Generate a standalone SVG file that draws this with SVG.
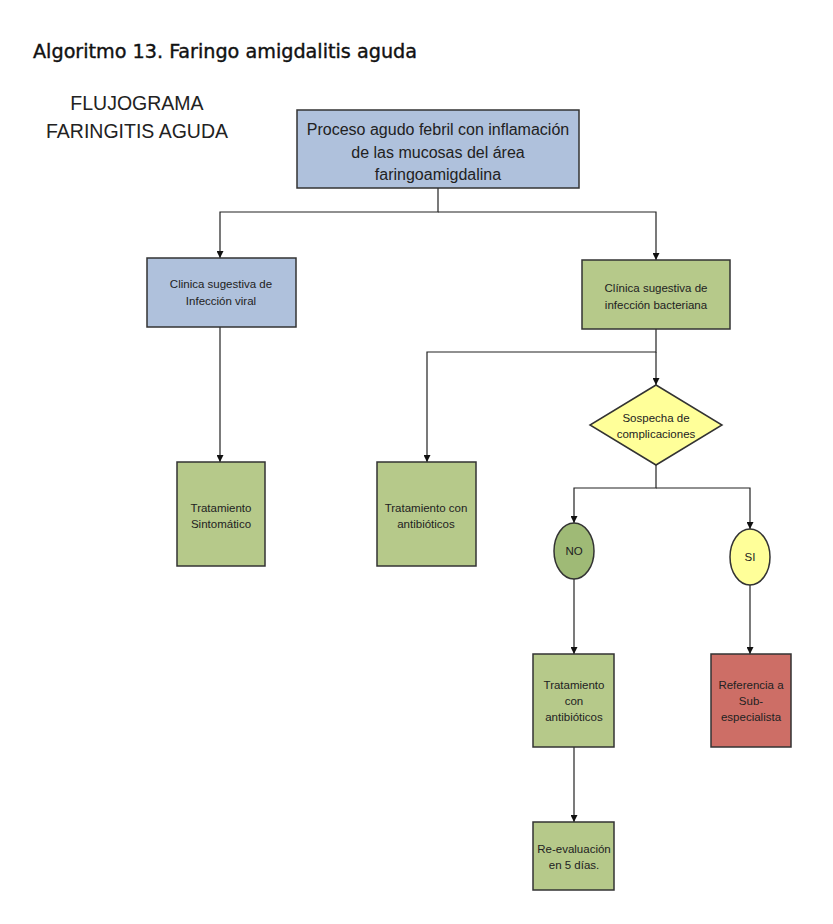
<svg xmlns="http://www.w3.org/2000/svg" width="833" height="924" viewBox="0 0 833 924">
<style>
.t{font-family:"Liberation Sans",Arial,sans-serif;fill:#222;text-anchor:middle}
.s{font-size:11.5px}
.b{stroke:#333;stroke-width:1.5}
.blue{fill:#afc1dc}
.green{fill:#b6c98a}
.yellow{fill:#ffff99}
.red{fill:#cd6e66}
.c{fill:none;stroke:#222;stroke-width:1.2}
</style>
<defs>
<marker id="ar" viewBox="0 0 10 10" refX="10" refY="5" markerWidth="7" markerHeight="7" markerUnits="userSpaceOnUse" orient="auto">
<path d="M0,0 L10,5 L0,10 z" fill="#111"/>
</marker>
</defs>
<rect width="833" height="924" fill="#fff"/>
<text x="33" y="58" font-family="'DejaVu Sans Condensed','DejaVu Sans',sans-serif" font-size="19" fill="#111" stroke="#111" stroke-width="0.35" textLength="384" lengthAdjust="spacingAndGlyphs">Algoritmo 13. Faringo amigdalitis aguda</text>
<text class="t" x="137" y="110" font-size="19.5">FLUJOGRAMA</text>
<text class="t" x="137" y="138" font-size="19.5">FARINGITIS AGUDA</text>
<g id="connectors">
<path class="c" d="M438,188 V212 H220 V258" marker-end="url(#ar)"/>
<path class="c" d="M438,212 H656 V260" marker-end="url(#ar)"/>
<path class="c" d="M220,327 V462" marker-end="url(#ar)"/>
<path class="c" d="M656,329 V352 H427 V462" marker-end="url(#ar)"/>
<path class="c" d="M656,352 V385" marker-end="url(#ar)"/>
<path class="c" d="M656,465 V488 H574 V523" marker-end="url(#ar)"/>
<path class="c" d="M656,488 H750 V529" marker-end="url(#ar)"/>
<path class="c" d="M574,579 V654" marker-end="url(#ar)"/>
<path class="c" d="M750,585 V654" marker-end="url(#ar)"/>
<path class="c" d="M574,747 V822" marker-end="url(#ar)"/>
</g>
<g id="n-proceso">
<rect class="b blue" x="297" y="110" width="282" height="78"/>
<text class="t" x="438" y="135" font-size="16">Proceso agudo febril con inflamación</text>
<text class="t" x="438" y="158" font-size="16">de las mucosas del área</text>
<text class="t" x="438" y="180" font-size="16">faringoamigdalina</text>
</g>
<g id="n-viral">
<rect class="b blue" x="147" y="258" width="149" height="69"/>
<text class="t s" x="221" y="288">Clinica sugestiva de</text>
<text class="t s" x="221" y="305">Infección viral</text>
</g>
<g id="n-bacteriana">
<rect class="b green" x="582" y="260" width="148" height="69"/>
<text class="t s" x="656" y="292">Clínica sugestiva de</text>
<text class="t s" x="656" y="309">infección bacteriana</text>
</g>
<g id="n-sintomatico">
<rect class="b green" x="177" y="462" width="88" height="104"/>
<text class="t s" x="221" y="512">Tratamiento</text>
<text class="t s" x="221" y="528">Sintomático</text>
</g>
<g id="n-antibioticos1">
<rect class="b green" x="377" y="462" width="99" height="104"/>
<text class="t s" x="426" y="512">Tratamiento con</text>
<text class="t s" x="426" y="528">antibióticos</text>
</g>
<g id="n-sospecha">
<polygon class="b yellow" points="656,385 722,425 656,465 590,425"/>
<text class="t s" x="656" y="422">Sospecha de</text>
<text class="t s" x="656" y="438">complicaciones</text>
</g>
<g id="n-no">
<ellipse class="b" fill="#9fba76" cx="574" cy="551" rx="20" ry="28"/>
<text class="t s" x="574" y="555">NO</text>
</g>
<g id="n-si">
<ellipse class="b yellow" cx="750" cy="557" rx="20" ry="28"/>
<text class="t s" x="750" y="561">SI</text>
</g>
<g id="n-antibioticos2">
<rect class="b green" x="533" y="654" width="81" height="93"/>
<text class="t s" x="574" y="689">Tratamiento</text>
<text class="t s" x="574" y="705">con</text>
<text class="t s" x="574" y="721">antibióticos</text>
</g>
<g id="n-referencia">
<rect class="b red" x="711" y="654" width="80" height="93"/>
<text class="t s" x="751" y="689">Referencia a</text>
<text class="t s" x="751" y="705">Sub-</text>
<text class="t s" x="751" y="721">especialista</text>
</g>
<g id="n-reevaluacion">
<rect class="b green" x="533" y="822" width="81" height="68"/>
<text class="t s" x="574" y="853">Re-evaluación</text>
<text class="t s" x="574" y="869">en 5 días.</text>
</g>
</svg>
